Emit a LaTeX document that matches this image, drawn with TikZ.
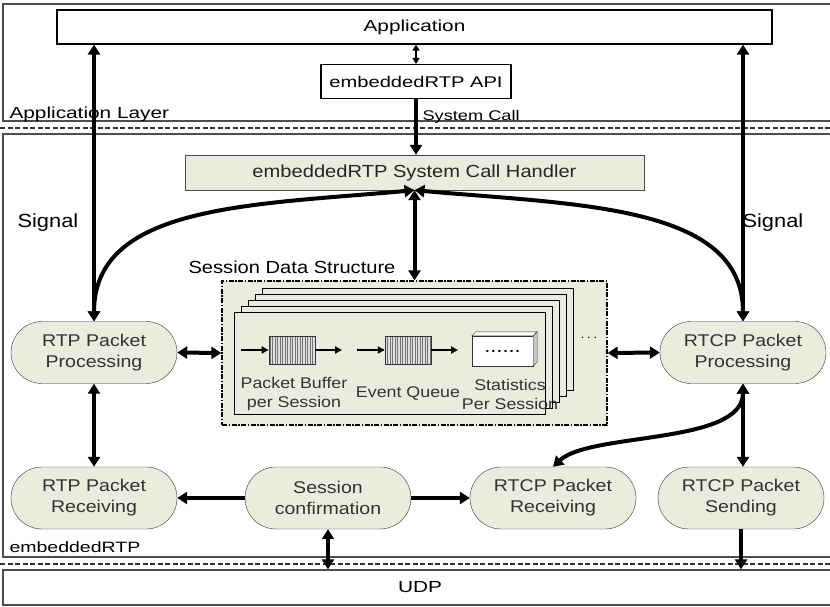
\documentclass[tikz,border=0pt]{standalone}
\usepackage{fontspec}
\setmainfont{Liberation Sans}[FakeStretch=1.15]
\newfontfamily\widefont{Liberation Sans}[FakeStretch=1.3]
\usetikzlibrary{arrows.meta,patterns.meta}
\definecolor{beige}{RGB}{235,235,222}
\tikzset{
	proc/.style={draw=black!80, fill=beige, rounded corners=31pt, minimum width=166pt, minimum height=62pt, inner sep=0pt, align=center, text=black!80, font=\fontsize{17}{21}\selectfont},
	bigarrow/.style={line width=4pt, {Triangle[length=10pt,width=12pt]}-{Triangle[length=10pt,width=12pt]}},
	onearrow/.style={line width=4pt, -{Triangle[length=10pt,width=12pt]}},
	smallarrow/.style={line width=2pt, -{Triangle[length=7pt,width=7pt]}},
	frame/.style={draw=black!70, line width=1.3pt},
	buffer/.style={draw=black!80, minimum width=46pt, minimum height=28pt, preaction={fill=gray!25}, pattern={Lines[angle=90,distance=2.5pt,line width=0.8pt]}, pattern color=black!55},
	page/.style={draw=black, fill=beige, line width=0.9pt}
}
\begin{document}
\begin{tikzpicture}[x=1pt,y=-1pt]
		\clip (0,0) rectangle (830,607);
		\fill[white] (0,0) rectangle (830,607);
		% layers
		\draw[frame] (3,4) rectangle (845,121);
		\draw[black!80, line width=2pt, dash pattern=on 5pt off 2.5pt] (0,128) -- (830,128);
		\draw[frame] (3,134) rectangle (845,557);
		\draw[black!80, line width=2pt, dash pattern=on 5pt off 2.5pt] (0,564) -- (830,564);
		\node[frame, minimum width=834pt, minimum height=35pt, font=\widefont\fontsize{16}{18}\selectfont] (udp) at (420,587.5) {UDP};
		\node[anchor=base west, font=\widefont\fontsize{16}{18}\selectfont] (applayer) at (6,119) {Application Layer};
		\node[anchor=base west, font=\widefont\fontsize{15}{18}\selectfont] (rtplayer) at (6,552) {embeddedRTP};
		% application side
		\node[draw, line width=1.2pt, minimum width=715pt, minimum height=34pt, font=\widefont\fontsize{16}{18}\selectfont] (app) at (414.5,27) {Application};
		\node[draw, line width=1.2pt, minimum width=190pt, minimum height=34pt, font=\widefont\fontsize{15.5}{18}\selectfont] (api) at (416,81.5) {embeddedRTP API};
		\node[anchor=base west, font=\widefont\fontsize{14}{16}\selectfont] (syscall) at (419,120.5) {System Call};
		\node[draw=black!70, fill=beige, minimum width=459pt, minimum height=35pt, text=black!85, font=\fontsize{17.5}{20}\selectfont] (hdl) at (414.5,172.5) {embeddedRTP System Call Handler};
		\node[anchor=west, font=\fontsize{19}{22}\selectfont] (sigl) at (14,223) {Signal};
		\node[anchor=west, font=\fontsize{19}{22}\selectfont] (sigr) at (739,223) {Signal};
		% session data structure
		\node[anchor=base west, font=\fontsize{17.5}{20}\selectfont] (sdstitle) at (185,273) {Session Data Structure};
		\node[draw, fill=beige, line width=1.3pt, dash pattern=on 5pt off 1.5pt on 1.5pt off 1.5pt, minimum width=385pt, minimum height=144pt] (sds) at (414.5,353) {};
		\foreach \k in {4,3,2,1,0}
			\draw[page] (234+7*\k,312-6*\k) rectangle ++(311,102);
		\node[buffer] (buf1) at (292,350) {};
		\node[buffer] (buf2) at (408,350) {};
		\coordinate (in1) at (241,350);
		\coordinate (out1) at (342,350);
		\coordinate (in2) at (357,350);
		\coordinate (out2) at (458,350);
		\draw[smallarrow] (in1) -- (buf1.west);
		\draw[smallarrow] (buf1.east) -- (out1);
		\draw[smallarrow] (in2) -- (buf2.west);
		\draw[smallarrow] (buf2.east) -- (out2);
		\node[draw=black!80, fill=white, minimum width=61pt, minimum height=30pt, inner sep=0pt, font=\fontsize{19}{18}\selectfont] (stat) at (502.5,351) {......};
		\draw[draw=black!80, fill=white] (stat.north west) -- ++(4,-4) -- ++(61,0) -- (stat.north east) -- cycle;
		\draw[draw=black!80, fill=gray!45] (stat.north east) -- ++(4,-4) -- ++(0,30) -- (stat.south east) -- cycle;
		\node[align=center, text=black!80, font=\fontsize{15.5}{19}\selectfont] (lbuf) at (294,394) {Packet Buffer\\per Session};
		\node[text=black!80, font=\fontsize{15.5}{19}\selectfont] (lqueue) at (408,394) {Event Queue};
		\node[align=center, text=black!80, font=\fontsize{15.5}{19}\selectfont] (lstat) at (510,394) {Statistics\\Per Session};
		\node[font=\fontsize{15}{18}\selectfont] (more) at (589,338) {$\cdots$};
		% processing blocks
		\node[proc] (rtpp) at (94,352.5) {RTP Packet\\Processing};
		\node[proc] (rtcpp) at (743,352.5) {RTCP Packet\\Processing};
		\node[proc] (rtpr) at (94,498) {RTP Packet\\Receiving};
		\node[proc] (sconf) at (328,498) {Session\\confirmation};
		\node[proc] (rtcpr) at (553,498) {RTCP Packet\\Receiving};
		\node[proc] (rtcps) at (741,498) {RTCP Packet\\Sending};
		% connectors
		\draw[line width=2pt, {Triangle[length=6pt,width=7pt]}-{Triangle[length=6pt,width=7pt]}] (api.north) -- (api.north |- app.south);
		\draw[onearrow] (api.south) -- (api.south |- hdl.north);
		\draw[bigarrow] (rtpp.north) -- (rtpp.north |- app.south);
		\draw[bigarrow] (rtcpp.north) -- (rtcpp.north |- app.south);
		\draw[bigarrow] (hdl.south) .. controls (250,205) and (94,205) .. (rtpp.north);
		\draw[bigarrow] (hdl.south) .. controls (580,205) and (743,205) .. (rtcpp.north);
		\draw[bigarrow] (hdl.south) -- (hdl.south |- sds.north);
		\draw[bigarrow] (rtpp.east) -- (sds.west);
		\draw[bigarrow] (rtcpp.west) -- (sds.east);
		\draw[bigarrow] (rtpp.south) -- (rtpr.north);
		\draw[bigarrow] (rtcpp.south) -- (rtcpp.south |- rtcps.north);
		\draw[bigarrow] (rtcpp.south) .. controls (743,445) and (590,432) .. (rtcpr.north);
		\draw[onearrow] (sconf.west) -- (rtpr.east);
		\draw[onearrow] (sconf.east) -- (rtcpr.west);
		\draw[bigarrow] (sconf.south) -- (sconf.south |- udp.north);
		\draw[onearrow] (rtcps.south) -- (rtcps.south |- udp.north);
\end{tikzpicture}
\end{document}
